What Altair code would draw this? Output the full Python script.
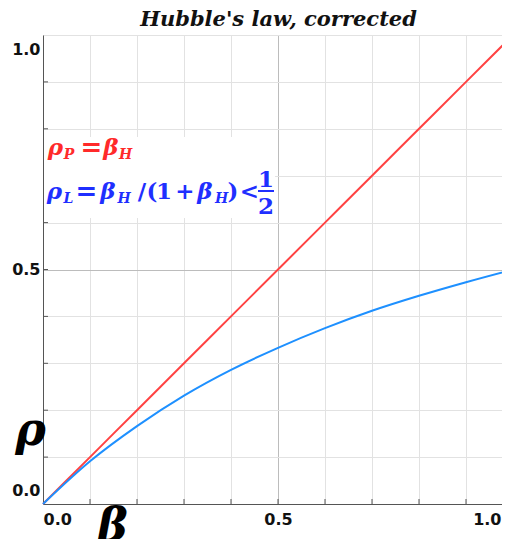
import altair as alt
import pandas as pd

# ---- data ----
beta = [0.0, 0.1, 0.2, 0.3, 0.4, 0.5, 0.6, 0.7, 0.8, 0.9, 1.0]
rho_P = [0.0, 0.1, 0.2, 0.3, 0.4, 0.5, 0.6, 0.7, 0.8, 0.9, 1.0]
rho_L = [0.0, 0.091, 0.166, 0.231, 0.286, 0.333, 0.375, 0.412, 0.444, 0.473, 0.5]
grid_values = [0.0, 0.1, 0.2, 0.3, 0.4, 0.5, 0.6, 0.7, 0.8, 0.9, 1.0]
minor_ticks = [0.1, 0.2, 0.3, 0.4, 0.5, 0.6, 0.7, 0.8, 0.9]
tick_labels = ["0.0", "0.5", "1.0"]
series_names = ["rho_P", "rho_L"]
series_colors = ["#ff4242", "#1e90ff"]

RED = "#ff2a2a"
BLUE = "#1f2fff"

df = pd.DataFrame({
    "beta": beta + beta,
    "rho": rho_P + rho_L,
    "series": [series_names[0]] * len(beta) + [series_names[1]] * len(beta),
})

W, H = 459, 469      # visible plot area; x range runs past the right edge like the reference
XR = 470

label_expr = ("indexof([" + ",".join("'%s'" % t for t in tick_labels) +
              "], format(datum.value, '.1f')) >= 0 ? format(datum.value, '.1f') : ''")
grid_color = {"condition": {"test": "datum.value === 0.5", "value": "#bcbcbc"},
              "value": "#e2e2e2"}

x_axis = alt.Axis(values=grid_values, labelExpr=label_expr, grid=True, gridColor=grid_color,
                  tickSize=0, labelPadding=7, labelFlush=True, labelOverlap=False,
                  labelOffset={"condition": {"test": "datum.value === 1", "value": -12},
                               "value": 0},
                  labelFont="DejaVu Sans", labelFontWeight="bold", labelFontSize=16,
                  labelColor="#111", domainColor="#555",
                  title="β", titleFont="DejaVu Serif", titleFontSize=46,
                  titleFontWeight="bold", titleFontStyle="italic", titleColor="black",
                  titleX=69, titleY=36, titleAlign="center", titleBaseline="alphabetic")
y_axis = alt.Axis(values=grid_values, labelExpr=label_expr, grid=True, gridColor=grid_color,
                  tickSize=0, labelPadding=3, labelFlush=True, labelFlushOffset=-6,
                  labelOverlap=False,
                  labelFont="DejaVu Sans", labelFontWeight="bold", labelFontSize=16,
                  labelColor="#111", domainColor="#555",
                  title="ρ", titleFont="DejaVu Serif", titleFontSize=46,
                  titleFontWeight="bold", titleFontStyle="italic", titleColor="black",
                  titleAngle=0, titleX=-13, titleY=409, titleAlign="center",
                  titleBaseline="alphabetic")

lines = alt.Chart(df).mark_line(strokeWidth=2, interpolate="monotone").encode(
    x=alt.X("beta:Q", scale=alt.Scale(domain=[0, 1], range=[0, XR], nice=False), axis=x_axis),
    y=alt.Y("rho:Q", scale=alt.Scale(domain=[0, 1], nice=False), axis=y_axis),
    color=alt.Color("series:N", scale=alt.Scale(domain=series_names, range=series_colors),
                    legend=None),
)

tick_df = pd.DataFrame({"v": minor_ticks})
yticks = alt.Chart(tick_df).mark_rule(color="#555", strokeWidth=1).encode(
    y=alt.Y("v:Q"), x=alt.value(0), x2=alt.value(5))
xticks = alt.Chart(tick_df).mark_rule(color="#555", strokeWidth=1).encode(
    x=alt.X("v:Q"), y=alt.value(H), y2=alt.value(H - 5))

one = pd.DataFrame({"a": [0]})

box = alt.Chart(one).mark_rect(color="white").encode(
    x=alt.value(1), x2=alt.value(232), y=alt.value(102), y2=alt.value(183))


def seg(t, x, y, size, color, italic=True):
    return alt.Chart(one).mark_text(
        font="DejaVu Serif", fontWeight="bold",
        fontStyle="italic" if italic else "normal",
        fontSize=size, color=color, align="center", baseline="alphabetic",
    ).encode(x=alt.value(x), y=alt.value(y), text=alt.value(t))


MAIN, SUB, EQ = 23, 14, 26
ry, rs = 120, 124
by, bs = 164, 168
annot = [
    seg("ρ", 12.5, ry, MAIN, RED), seg("P", 26, rs, SUB, RED),
    seg("=", 48.5, ry + 1, EQ, RED, False), seg("β", 68, ry, MAIN, RED), seg("H", 82.5, rs, SUB, RED),
    seg("ρ", 11.5, by, MAIN, BLUE), seg("L", 25.5, bs, SUB, BLUE),
    seg("=", 43.5, by + 1, EQ, BLUE, False), seg("β", 65, by, MAIN, BLUE),
    seg("H", 81, bs, SUB, BLUE),
    seg("/", 99, by, MAIN, BLUE, False), seg("(", 109, by, MAIN, BLUE, False),
    seg("1", 121, by, MAIN, BLUE, False), seg("+", 142, by, MAIN, BLUE, False),
    seg("β", 162, by, MAIN, BLUE), seg("H", 178.5, bs, SUB, BLUE),
    seg(")", 190, by, MAIN, BLUE, False), seg("<", 206.5, by, MAIN, BLUE, False),
    seg("1", 223, 152, MAIN, BLUE, False),
    seg("2", 223, 179, MAIN, BLUE, False),
]
frac_bar = alt.Chart(one).mark_rule(color=BLUE, strokeWidth=2).encode(
    x=alt.value(215), x2=alt.value(231), y=alt.value(156))

chart = alt.layer(lines, yticks, xticks, box, frac_bar, *annot).properties(
    width=W, height=H,
    title=alt.TitleParams("Hubble's law, corrected", font="DejaVu Serif", fontSize=21,
                          fontWeight="bold", fontStyle="italic", color="#111",
                          anchor="middle", offset=1, dx=6),
    autosize=alt.AutoSizeParams(type="none"),
    padding={"left": 35, "top": 27, "right": 0, "bottom": 35},
).configure_view(stroke="#444", strokeWidth=1).configure(background="white")

chart.save("out.html", embed_options={"renderer": "svg", "actions": False})
